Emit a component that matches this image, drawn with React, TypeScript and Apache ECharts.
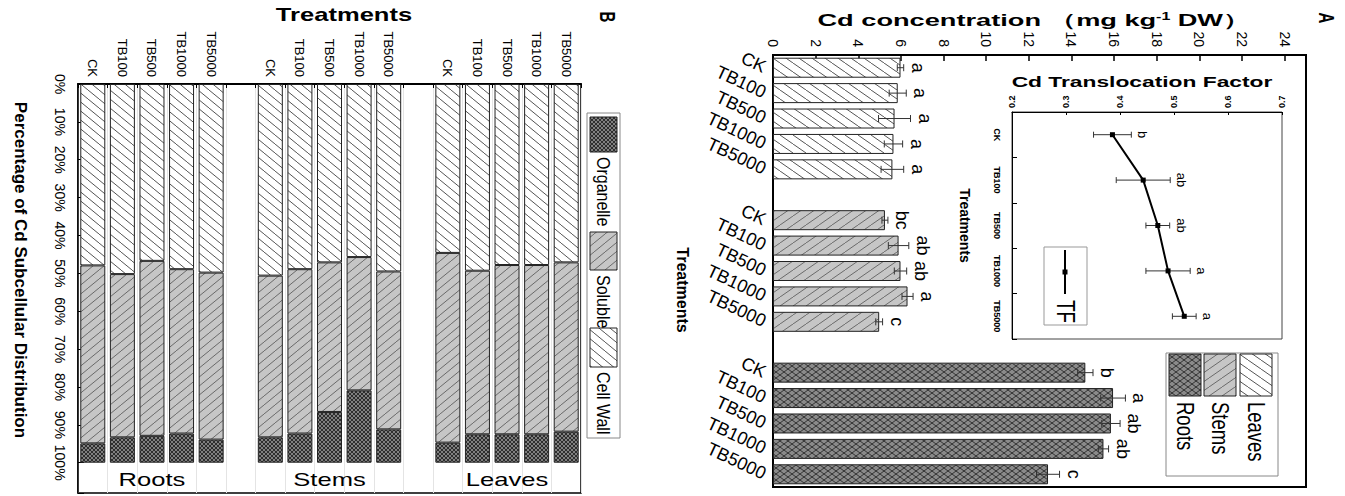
import React, { useEffect, useRef } from 'react';
import * as echarts from 'echarts';

const FONT = '"Liberation Sans", Arial, sans-serif';

// ---------- categories ----------
const TREATMENTS = ['CK', 'TB100', 'TB500', 'TB1000', 'TB5000'];
const ORGANS_A = ['Leaves', 'Stems', 'Roots'];
const ORGANS_B = ['Roots', 'Stems', 'Leaves'];
const FRACTIONS = ['Cell Wall', 'Soluble', 'Organelle'];

// ---------- Panel A: Cd concentration (mg kg-1 DW), mean, SE, letters ----------
const leavesCd = [5.98, 5.85, 5.7, 5.65, 5.6];
const leavesSe = [0.15, 0.4, 0.75, 0.43, 0.53];
const leavesSig = ['a', 'a', 'a', 'a', 'a'];
const stemsCd = [5.25, 5.89, 5.98, 6.31, 4.98];
const stemsSe = [0.14, 0.48, 0.29, 0.26, 0.16];
const stemsSig = ['bc', 'ab', 'ab', 'a', 'c'];
const rootsCd = [14.65, 15.95, 15.85, 15.5, 12.9];
const rootsSe = [0.36, 0.58, 0.43, 0.24, 0.54];
const rootsSig = ['b', 'a', 'ab', 'ab', 'c'];

// ---------- Inset: Cd translocation factor ----------
const tfValues = [0.386, 0.443, 0.47, 0.489, 0.519];
const tfSe = [0.035, 0.05, 0.022, 0.041, 0.022];
const tfSig = ['b', 'ab', 'ab', 'a', 'a'];

// ---------- Panel B: subcellular distribution (%) ----------
const rootsCellWall = [47.9, 50.2, 46.7, 48.9, 49.8];
const rootsSoluble = [47.0, 43.1, 46.2, 43.4, 44.1];
const rootsOrganelle = [5.1, 6.7, 7.1, 7.7, 6.1];
const stemsCellWall = [50.6, 48.9, 47.1, 45.7, 49.5];
const stemsSoluble = [42.7, 43.4, 39.5, 35.2, 41.7];
const stemsOrganelle = [6.7, 7.7, 13.4, 19.1, 8.8];
const leavesCellWall = [44.6, 49.3, 47.8, 47.8, 47.1];
const leavesSoluble = [50.1, 43.2, 44.7, 44.7, 44.7];
const leavesOrganelle = [5.3, 7.5, 7.5, 7.5, 8.2];

// ---------- axis ranges / tick labels ----------
const CD_MIN = 0, CD_MAX = 25, CD_STEP = 2;
const CD_TICK_LABELS = [0, 2, 4, 6, 8, 10, 12, 14, 16, 18, 20, 22, 24];
const TF_MIN = 0.2, TF_MAX = 0.7, TF_STEP = 0.1;
const PCT_MIN = 0, PCT_MAX = 108, PCT_STEP = 10, PCT_LAST_LABEL = 100;
const GROUP_LABEL_PCT = 104.5;

function buildSlots(organs: string[]) {
  const keys: string[] = [];
  organs.forEach((o, i) => {
    if (i > 0) keys.push('gap' + i);
    TREATMENTS.forEach((t) => keys.push(o + '|' + t));
  });
  return keys;
}
function seriesOn(keys: string[], organ: string, values: number[]) {
  return keys.map((k) => {
    const [o, t] = k.split('|');
    return o === organ ? values[TREATMENTS.indexOf(t)] : null;
  });
}
const catLabel = (v: string) => (v.indexOf('|') < 0 ? '' : v.split('|')[1]);

function hatch(bg: string, ink: string, mode: 'down' | 'up' | 'cross', w: number, h: number, lw = 1) {
  const c = document.createElement('canvas');
  c.width = w;
  c.height = h;
  const g = c.getContext('2d')!;
  g.fillStyle = bg;
  g.fillRect(0, 0, w, h);
  g.strokeStyle = ink;
  g.lineWidth = lw;
  for (const dx of [-w, 0, w]) {
    if (mode !== 'up') {
      g.beginPath();
      g.moveTo(dx, 0);
      g.lineTo(dx + w, h);
      g.stroke();
    }
    if (mode !== 'down') {
      g.beginPath();
      g.moveTo(dx, h);
      g.lineTo(dx + w, 0);
      g.stroke();
    }
  }
  return { image: c.toDataURL(), repeat: 'repeat', imageWidth: w, imageHeight: h };
}

export default function App() {
  const ref = useRef<HTMLDivElement>(null);

  useEffect(() => {
    const chart = echarts.init(ref.current!, null, { renderer: 'svg', width: 1345, height: 496 });

    const patLeaves = hatch('#ffffff', '#555555', 'down', 13, 9);
    const patStems = hatch('#c6c6c6', '#6a6a6a', 'up', 13, 9);
    const patRoots = hatch('#8a8a8a', '#333333', 'cross', 8, 6);
    const patCellWall = hatch('#ffffff', '#555555', 'down', 11, 9);
    const patSoluble = hatch('#c6c6c6', '#6a6a6a', 'up', 11, 9);
    const patOrganelle = hatch('#808080', '#2e2e2e', 'cross', 4, 4);

    const cdData: Record<string, { v: number[]; se: number[]; sig: string[]; pat: any }> = {
      Leaves: { v: leavesCd, se: leavesSe, sig: leavesSig, pat: patLeaves },
      Stems: { v: stemsCd, se: stemsSe, sig: stemsSig, pat: patStems },
      Roots: { v: rootsCd, se: rootsSe, sig: rootsSig, pat: patRoots },
    };
    const pctData: Record<string, Record<string, number[]>> = {
      'Cell Wall': { Roots: rootsCellWall, Stems: stemsCellWall, Leaves: leavesCellWall },
      Soluble: { Roots: rootsSoluble, Stems: stemsSoluble, Leaves: leavesSoluble },
      Organelle: { Roots: rootsOrganelle, Stems: stemsOrganelle, Leaves: leavesOrganelle },
    };
    const fracPat: Record<string, any> = { 'Cell Wall': patCellWall, Soluble: patSoluble, Organelle: patOrganelle };

    const keysA = buildSlots(ORGANS_A);
    const keysB = buildSlots(ORGANS_B);

    const errA: number[][] = [];
    const sigA: string[] = [];
    ORGANS_A.forEach((o) => {
      TREATMENTS.forEach((t, i) => {
        errA.push([cdData[o].v[i], keysA.indexOf(o + '|' + t), cdData[o].se[i]]);
        sigA.push(cdData[o].sig[i]);
      });
    });
    const errTF = tfValues.map((v, i) => [v, i, tfSe[i]]);

    const errRender = (cap: number) => (params: any, api: any) => {
      const v = api.value(0);
      const c = api.value(1);
      const e = api.value(2);
      const lo = api.coord([v - e, c]);
      const hi = api.coord([v + e, c]);
      const st = { stroke: '#333', lineWidth: 1 };
      return {
        type: 'group',
        children: [
          { type: 'line', shape: { x1: lo[0], y1: lo[1], x2: hi[0], y2: hi[1] }, style: st },
          { type: 'line', shape: { x1: lo[0], y1: lo[1] - cap, x2: lo[0], y2: lo[1] + cap }, style: st },
          { type: 'line', shape: { x1: hi[0], y1: hi[1] - cap, x2: hi[0], y2: hi[1] + cap }, style: st },
        ],
      };
    };

    const groupRender = (params: any, api: any) => {
      const p = api.coord([api.value(0), api.value(1)]);
      return {
        type: 'text',
        x: p[0],
        y: p[1],
        scaleX: 1.42,
        style: {
          text: ORGANS_B[params.dataIndex],
          align: 'center',
          verticalAlign: 'middle',
          fontSize: 18,
          fontFamily: FONT,
          fill: '#000',
        },
      };
    };

    const vText = (text: string, x: number, y: number, fs: number, extra: any = {}, align = 'left') => ({
      type: 'text',
      x,
      y,
      rotation: -Math.PI / 2,
      z: 20,
      ...extra,
      style: { text, fontSize: fs, fontFamily: FONT, fill: '#000', align, verticalAlign: 'middle', ...(extra.style || {}) },
    });
    const box = (x: number, y: number, w: number, h: number, fill: any, stroke: string) => ({
      type: 'rect',
      z: 19,
      shape: { x, y, width: w, height: h },
      style: { fill, stroke, lineWidth: 1 },
    });

    const legendA: any[] = [box(1166, 353, 112, 123, '#fff', '#888')];
    [['Roots', 1169], ['Stems', 1204], ['Leaves', 1240]].forEach(([o, x]: any) => {
      legendA.push(box(x, 354, 32, 42, cdData[o].pat, '#222'));
      legendA.push(vText(o, x + 16, 402, 18.5, { scaleY: 1.3 }));
    });
    const legendB: any[] = [box(587, 113, 33, 325, '#fff', '#888')];
    [['Organelle', 117, 35], ['Soluble', 232, 38], ['Cell Wall', 328, 39]].forEach(([f, y, h]: any) => {
      legendB.push(box(590, y, 27, h, fracPat[f], '#222'));
      legendB.push(vText(f, 604, y + h + 5, 16, { scaleY: 1.2 }));
    });
    const legendTF: any[] = [
      box(1044, 247, 43, 78, '#fff', '#999'),
      { type: 'line', z: 20, shape: { x1: 1065, y1: 250, x2: 1065, y2: 294 }, style: { stroke: '#000', lineWidth: 2 } },
      { type: 'rect', z: 20, shape: { x: 1062.5, y: 269.5, width: 5, height: 5 }, style: { fill: '#000' } },
      vText('TF', 1066, 300, 19, { scaleY: 1.35 }),
    ];

    const staticGraphic: any[] = [
      vText('A', 1327, 18, 15, { scaleY: 1.5, style: { fontWeight: 'bold' } }, 'center'),
      vText('B', 608, 17, 15, { scaleY: 1.5, style: { fontWeight: 'bold' } }, 'center'),
      {
        type: 'text',
        x: 1034,
        y: 20,
        scaleX: 1.6,
        z: 20,
        style: {
          text: '{t|Cd concentration （mg kg}{s|-1}{t| DW）}',
          rich: {
            t: { fontSize: 17, fontWeight: 'bold', fontFamily: FONT, fill: '#000' },
            s: { fontSize: 10, fontWeight: 'bold', fontFamily: FONT, fill: '#000', verticalAlign: 'top' },
          },
          align: 'center',
          verticalAlign: 'middle',
        },
      },
      {
        type: 'text',
        x: 1142,
        y: 82,
        scaleX: 1.52,
        z: 20,
        style: { text: 'Cd Translocation Factor', fontSize: 15, fontWeight: 'bold', fontFamily: FONT, fill: '#000', align: 'center', verticalAlign: 'middle' },
      },
      vText('Treatments', 682, 290, 16, { style: { fontWeight: 'bold' } }, 'center'),
      {
        type: 'text',
        x: 344,
        y: 15,
        scaleX: 1.42,
        z: 20,
        style: { text: 'Treatments', fontSize: 18, fontWeight: 'bold', fontFamily: FONT, fill: '#000', align: 'center', verticalAlign: 'middle' },
      },
      vText('Percentage of Cd Subcellular Distribution', 20, 270, 17, { style: { fontWeight: 'bold' } }, 'center'),
      ...legendA,
      ...legendB,
      ...legendTF,
    ];

    const option: any = {
      animation: false,
      backgroundColor: '#fff',
      textStyle: { fontFamily: FONT, color: '#000' },
      grid: [
        { left: 773, top: 55, width: 533, height: 432, show: true, borderColor: '#000', borderWidth: 2 },
        { left: 1012, top: 112, width: 270, height: 227, show: true, borderColor: '#444', borderWidth: 1, backgroundColor: '#fff' },
        { left: 78, top: 84, width: 503, height: 411, show: true, borderColor: '#000', borderWidth: 1.5 },
      ],
      xAxis: [
        {
          gridIndex: 0,
          type: 'value',
          position: 'top',
          min: CD_MIN,
          max: CD_MAX,
          interval: CD_STEP,
          axisLine: { show: true, lineStyle: { color: '#000', width: 2 } },
          axisTick: { show: true, inside: true, length: 6, lineStyle: { color: '#000', width: 1.5 } },
          axisLabel: { show: false },
          splitLine: { show: false },
        },
        {
          gridIndex: 1,
          type: 'value',
          position: 'top',
          min: TF_MIN,
          max: TF_MAX,
          interval: TF_STEP,
          axisLine: { show: true, lineStyle: { color: '#000', width: 1 } },
          axisTick: { show: true, inside: true, length: 3, lineStyle: { color: '#000' } },
          axisLabel: { rotate: -90, fontSize: 9, fontWeight: 'bold', margin: 4, color: '#000', formatter: (v: number) => v.toFixed(1) },
          splitLine: { show: false },
        },
        {
          gridIndex: 2,
          type: 'category',
          position: 'top',
          data: keysB,
          axisLine: { show: true, lineStyle: { color: '#000', width: 2 } },
          axisTick: { show: true, inside: true, length: 4, interval: 0, lineStyle: { color: '#000' } },
          axisLabel: { rotate: -90, fontSize: 13, margin: 7, interval: 0, color: '#000', formatter: catLabel },
          splitLine: { show: true, interval: 0, lineStyle: { color: '#e4e4e4', width: 1 } },
        },
      ],
      yAxis: [
        {
          gridIndex: 0,
          type: 'category',
          data: keysA,
          inverse: true,
          axisLine: { show: true, lineStyle: { color: '#000', width: 2 } },
          axisTick: { show: false },
          axisLabel: { rotate: -25, fontSize: 18, margin: 8, interval: 0, color: '#000', formatter: catLabel, padding: [10, 0, 0, 0] },
        },
        {
          gridIndex: 1,
          type: 'category',
          data: TREATMENTS,
          inverse: true,
          axisLine: { show: true, lineStyle: { color: '#000', width: 1 } },
          axisTick: { show: true, inside: true, length: 5, lineStyle: { color: '#000' } },
          axisLabel: { rotate: -90, fontSize: 9, fontWeight: 'bold', margin: 11, color: '#000' },
          name: 'Treatments',
          nameLocation: 'middle',
          nameGap: 40,
          nameRotate: -90,
          nameTextStyle: { fontSize: 14, fontWeight: 'bold', color: '#000' },
        },
        {
          gridIndex: 2,
          type: 'value',
          inverse: true,
          min: PCT_MIN,
          max: PCT_MAX,
          interval: PCT_STEP,
          axisLine: { show: true, lineStyle: { color: '#000', width: 1.5 } },
          axisTick: { show: true, inside: true, length: 6, lineStyle: { color: '#000' } },
          axisLabel: { rotate: -90, fontSize: 14, margin: 11, color: '#000', formatter: (v: number) => (v > PCT_LAST_LABEL ? '' : v + '%') },
          splitLine: { show: false },
        },
      ],
      series: [
        ...ORGANS_A.map((o) => ({
          type: 'bar',
          name: o,
          xAxisIndex: 0,
          yAxisIndex: 0,
          stack: 'cd',
          barWidth: 20,
          data: seriesOn(keysA, o, cdData[o].v),
          itemStyle: { color: cdData[o].pat, borderColor: '#222', borderWidth: 1 },
          z: 2,
        })),
        {
          type: 'custom',
          name: 'cd-se',
          xAxisIndex: 0,
          yAxisIndex: 0,
          data: errA,
          renderItem: errRender(3.5),
          z: 4,
          silent: true,
        },
        {
          type: 'line',
          name: 'TF',
          xAxisIndex: 1,
          yAxisIndex: 1,
          data: tfValues.map((v, i) => [v, i]),
          symbol: 'rect',
          symbolSize: 5,
          lineStyle: { color: '#000', width: 2 },
          itemStyle: { color: '#000' },
          z: 5,
        },
        {
          type: 'custom',
          name: 'tf-se',
          xAxisIndex: 1,
          yAxisIndex: 1,
          data: errTF,
          renderItem: errRender(3),
          z: 4,
          silent: true,
        },
        ...FRACTIONS.map((f) => ({
          type: 'bar',
          name: f,
          xAxisIndex: 2,
          yAxisIndex: 2,
          stack: 'pct',
          barWidth: 25,
          data: keysB.map((k) => {
            const [o, t] = k.split('|');
            return t ? pctData[f][o][TREATMENTS.indexOf(t)] : null;
          }),
          itemStyle: { color: fracPat[f], borderColor: '#222', borderWidth: 1 },
          z: 2,
        })),
        {
          type: 'custom',
          name: 'groups',
          xAxisIndex: 2,
          yAxisIndex: 2,
          data: ORGANS_B.map((o) => [keysB.indexOf(o + '|TB500'), GROUP_LABEL_PCT]),
          renderItem: groupRender,
          z: 6,
          silent: true,
        },
      ],
    };

    chart.setOption(option);

    // Texts that must read top-to-bottom, placed through the chart's own scales.
    const dynamic: any[] = [];
    const gridTopA = 55;
    CD_TICK_LABELS.forEach((v) => {
      const x = chart.convertToPixel({ xAxisIndex: 0 } as any, v) as unknown as number;
      dynamic.push(vText(String(v), x, gridTopA - 8, 14, {}, 'right'));
    });
    errA.forEach((d, i) => {
      const p = chart.convertToPixel({ xAxisIndex: 0, yAxisIndex: 0 } as any, [d[0] + d[2], d[1]]) as number[];
      dynamic.push(vText(sigA[i], p[0] + 5, p[1], 18, { style: { verticalAlign: 'bottom' } }, 'center'));
    });
    errTF.forEach((d, i) => {
      const p = chart.convertToPixel({ xAxisIndex: 1, yAxisIndex: 1 } as any, [d[0] + d[2], d[1]]) as number[];
      dynamic.push(vText(tfSig[i], p[0] + 5, p[1], 13, { style: { verticalAlign: 'bottom' } }, 'center'));
    });

    chart.setOption({ graphic: [...staticGraphic, ...dynamic] });

    return () => chart.dispose();
  }, []);

  return <div ref={ref} style={{ position: 'absolute', left: 0, top: 0, width: 1345, height: 496, background: '#fff' }} />;
}
